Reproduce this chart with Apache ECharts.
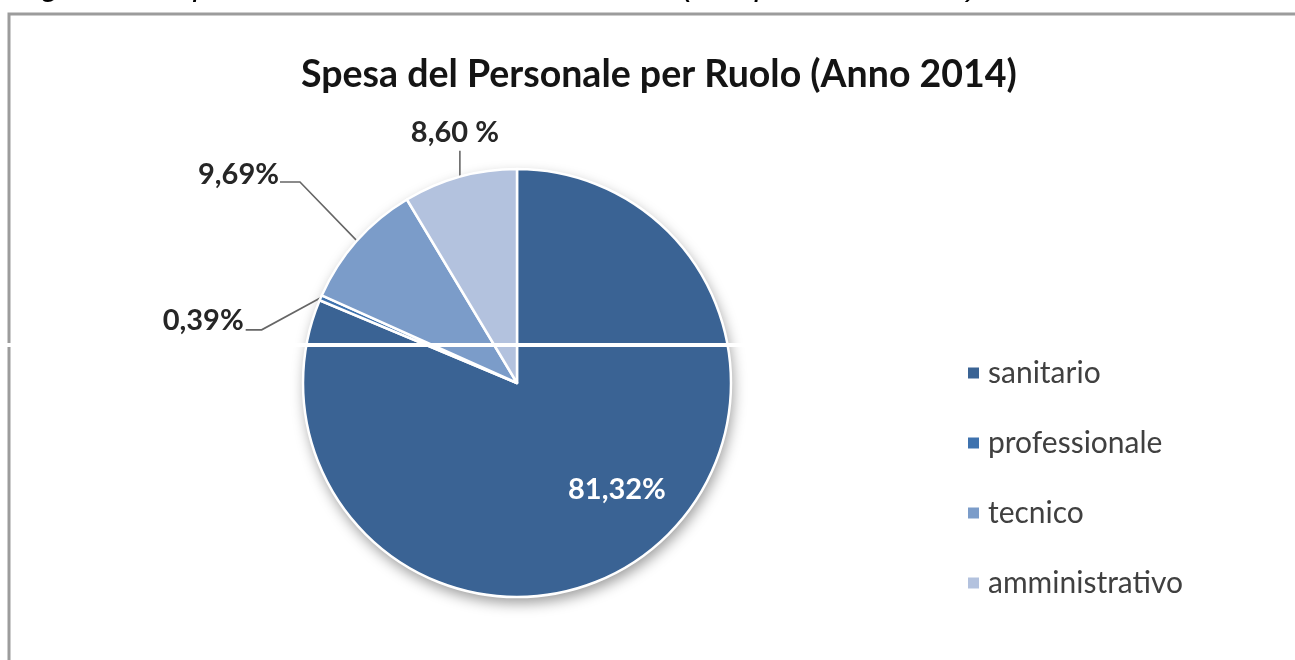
<!DOCTYPE html>
<html>
<head>
<meta charset="utf-8">
<title>Spesa del Personale per Ruolo (Anno 2014)</title>
<script src="https://cdn.jsdelivr.net/npm/echarts@6/dist/echarts.min.js"></script>
<style>
  html, body { margin: 0; padding: 0; background: #fff; }
  #chart { width: 1295px; height: 660px; }
</style>
</head>
<body>
<div id="chart"></div>
<script>
// Spending share by staff role, 2014 (percent)
const ruoli = ['sanitario', 'professionale', 'tecnico', 'amministrativo'];
const quote = [81.32, 0.39, 9.69, 8.60];
const coloriRuoli = ['#3a6394', '#3e72ae', '#7b9cc9', '#b3c2de'];

const titolo = 'Spesa del Personale per Ruolo (Anno 2014)';
const didascalia = 'Figura 2 – Spesa del Personale – Anno 2014 (composizione in %)';

// Italian number format: decimal comma
function formatta(v, sep) {
  return v.toFixed(2).replace('.', ',') + (sep || '') + '%';
}

// Leader-line geometry relative to each slice's outer edge point
const guide = [
  null,
  { pts: [[-59, 32], [-75, 32]], txt: [-77, 23], align: 'right' },
  { pts: [[-57, -59], [-77, -59]], txt: [-78, -66], align: 'right' },
  { pts: [[0, -26]], txt: [-5, -44], align: 'center' }
];

const chart = echarts.init(document.getElementById('chart'), null, { renderer: 'canvas' });

const dati = ruoli.map(function (nome, i) {
  const item = {
    name: nome,
    value: quote[i],
    itemStyle: { color: coloriRuoli[i] }
  };
  if (i === 0) {
    item.label = {
      position: 'inside',
      color: '#ffffff',
      fontSize: 29,
      fontWeight: 'bold'
    };
  }
  if (nome === 'amministrativo') {
    item.label = { formatter: function (p) { return formatta(p.value, ' '); } };
  }
  return item;
});

const option = {
  backgroundColor: '#ffffff',
  animation: false,
  title: {
    text: titolo,
    left: 296,
    top: 51,
    textStyle: {
      fontFamily: 'Lato',
      fontWeight: 'bold',
      fontSize: 37.5,
      color: '#141414'
    }
  },
  legend: {
    orient: 'vertical',
    left: 961,
    top: 353,
    data: ruoli,
    icon: 'rect',
    itemWidth: 13,
    itemHeight: 13,
    itemGap: 40,
    selectedMode: false,
    textStyle: {
      fontFamily: 'Lato',
      fontSize: 30,
      lineHeight: 30,
      color: '#404040',
      padding: [0, 0, 0, 3]
    }
  },
  graphic: [
    {
      type: 'rect',
      z: 0,
      silent: true,
      shape: { x: 9, y: 14, width: 1300, height: 660 },
      style: { fill: 'none', stroke: '#9c9c9c', lineWidth: 3 }
    },
    {
      type: 'text',
      z: 0,
      silent: true,
      style: {
        x: 14,
        y: 2,
        text: didascalia,
        verticalAlign: 'bottom',
        fontFamily: 'Liberation Sans',
        fontStyle: 'italic',
        fontSize: 33,
        fill: '#000000'
      }
    },
    {
      type: 'rect',
      z: 100,
      silent: true,
      shape: { x: 0, y: 343, width: 745, height: 4 },
      style: { fill: '#ffffff' }
    }
  ],
  series: [
    {
      // soft drop shadow under the whole disc
      type: 'pie',
      silent: true,
      z: 1,
      center: [517, 383],
      radius: 214,
      label: { show: false },
      labelLine: { show: false },
      tooltip: { show: false },
      itemStyle: {
        color: '#ffffff',
        shadowBlur: 14,
        shadowColor: 'rgba(0,0,0,0.4)',
        shadowOffsetX: 2,
        shadowOffsetY: 6
      },
      data: [{ name: '_', value: 1 }]
    },
    {
      type: 'pie',
      z: 2,
      center: [517, 383],
      radius: 214,
      startAngle: 90,
      clockwise: true,
      avoidLabelOverlap: false,
      minShowLabelAngle: 0,
      itemStyle: { borderColor: '#ffffff', borderWidth: 2.5 },
      emphasis: { disabled: true },
      label: {
        show: true,
        position: 'outside',
        formatter: function (p) { return formatta(p.value); },
        fontFamily: 'Lato',
        fontWeight: 'bold',
        fontSize: 29,
        color: '#262626'
      },
      labelLine: {
        show: true,
        length: 10,
        length2: 10,
        lineStyle: { color: '#666666', width: 1.6 }
      },
      labelLayout: function (params) {
        const g = guide[params.dataIndex];
        if (!g) {
          return { dx: 39, dy: 15 };
        }
        const p0 = params.labelLinePoints[0];
        const pts = [[p0[0], p0[1]]];
        g.pts.forEach(function (o) { pts.push([p0[0] + o[0], p0[1] + o[1]]); });
        if (pts.length === 2) { pts.push(pts[1].slice()); }
        return {
          x: p0[0] + g.txt[0],
          y: p0[1] + g.txt[1],
          align: g.align,
          verticalAlign: 'middle',
          labelLinePoints: pts
        };
      },
      data: dati
    }
  ]
};

chart.setOption(option);
</script>
</body>
</html>
